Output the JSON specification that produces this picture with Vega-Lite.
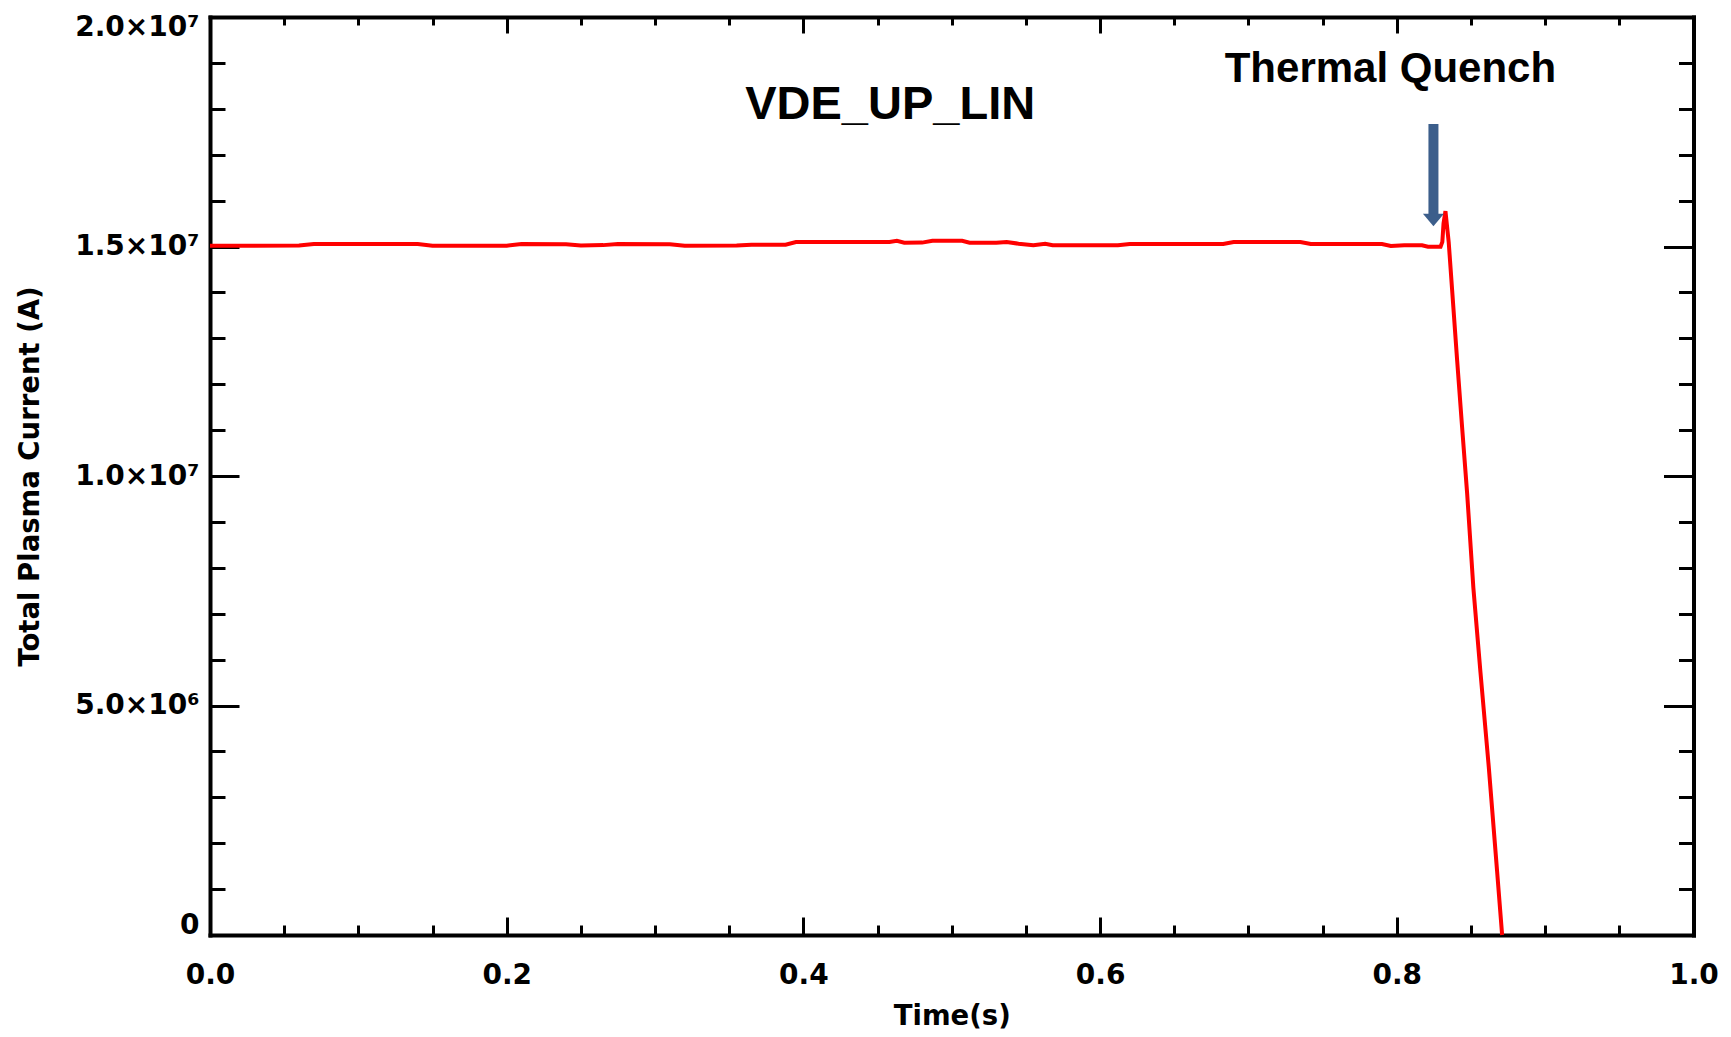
{
  "$schema": "https://vega.github.io/schema/vega-lite/v6.json",
  "width": 1483.5,
  "height": 918,
  "autosize": {"type": "none"},
  "padding": {"left": 210, "top": 17, "right": 37.5, "bottom": 102},
  "background": "white",
  "config": {
    "view": {"stroke": null},
    "axis": {
      "grid": false,
      "domainColor": "black",
      "domainWidth": 4,
      "domainCap": "square",
      "tickColor": "black",
      "tickWidth": 3,
      "labelFont": "DejaVu Sans",
      "labelFontWeight": "bold",
      "labelFontSize": 28,
      "labelColor": "black",
      "labelOverlap": false,
      "labelBound": false,
      "titleFont": "DejaVu Sans",
      "titleFontWeight": "bold",
      "titleFontSize": 27.5,
      "titleColor": "black"
    }
  },
  "datasets": {
    "current": [
      {"time": 0, "current": 15017000},
      {"time": 0.06, "current": 15020000},
      {"time": 0.07, "current": 15054000},
      {"time": 0.14, "current": 15054000},
      {"time": 0.15, "current": 15017000},
      {"time": 0.2, "current": 15017000},
      {"time": 0.21, "current": 15054000},
      {"time": 0.24, "current": 15050000},
      {"time": 0.25, "current": 15020000},
      {"time": 0.265, "current": 15030000},
      {"time": 0.275, "current": 15054000},
      {"time": 0.31, "current": 15050000},
      {"time": 0.32, "current": 15017000},
      {"time": 0.355, "current": 15020000},
      {"time": 0.365, "current": 15039000},
      {"time": 0.388, "current": 15040000},
      {"time": 0.395, "current": 15098000},
      {"time": 0.458, "current": 15100000},
      {"time": 0.463, "current": 15126000},
      {"time": 0.468, "current": 15083000},
      {"time": 0.48, "current": 15085000},
      {"time": 0.487, "current": 15126000},
      {"time": 0.507, "current": 15126000},
      {"time": 0.512, "current": 15083000},
      {"time": 0.53, "current": 15080000},
      {"time": 0.537, "current": 15098000},
      {"time": 0.545, "current": 15061000},
      {"time": 0.555, "current": 15026000},
      {"time": 0.563, "current": 15061000},
      {"time": 0.568, "current": 15026000},
      {"time": 0.612, "current": 15026000},
      {"time": 0.62, "current": 15054000},
      {"time": 0.683, "current": 15054000},
      {"time": 0.69, "current": 15098000},
      {"time": 0.735, "current": 15098000},
      {"time": 0.742, "current": 15054000},
      {"time": 0.79, "current": 15054000},
      {"time": 0.796, "current": 15011000},
      {"time": 0.805, "current": 15026000},
      {"time": 0.817, "current": 15026000},
      {"time": 0.821, "current": 14996000},
      {"time": 0.8295, "current": 14996000},
      {"time": 0.8307, "current": 15100000},
      {"time": 0.8315, "current": 15500000},
      {"time": 0.8328, "current": 15770000},
      {"time": 0.835, "current": 15090000},
      {"time": 0.8373, "current": 14050000},
      {"time": 0.8407, "current": 12510000},
      {"time": 0.844, "current": 11070000},
      {"time": 0.8474, "current": 9630000},
      {"time": 0.8516, "current": 7570000},
      {"time": 0.8564, "current": 5720000},
      {"time": 0.862, "current": 3660000},
      {"time": 0.8676, "current": 1390000},
      {"time": 0.871, "current": 0}
    ],
    "arrow": [
      {"time": 0.8247, "top": 17670000, "bottom": 15620000, "head": 15577000}
    ],
    "run": [
      {"time": 0.4585, "current": 17770000, "label": "VDE_UP_LIN"}
    ],
    "event": [
      {"time": 0.7957, "current": 18590000, "label": "Thermal Quench"}
    ]
  },
  "layer": [
    {
      "data": {"name": "current"},
      "mark": {"type": "line", "color": "#ff0000", "strokeWidth": 4},
      "encoding": {
        "x": {
          "field": "time", "type": "quantitative",
          "scale": {"domain": [0, 1], "nice": false, "zero": false},
          "axis": {
            "orient": "bottom",
            "values": [0, 0.05, 0.1, 0.15, 0.2, 0.25, 0.3, 0.35, 0.4, 0.45, 0.5, 0.55, 0.6, 0.65, 0.7, 0.75, 0.8, 0.85, 0.9, 0.95, 1.0],
            "tickSize": {"condition": {"test": "abs(datum.value*5 - round(datum.value*5)) < 0.001", "value": -18}, "value": -10},
            "labelExpr": "abs(datum.value*5 - round(datum.value*5)) < 0.001 ? format(datum.value, '.1f') : ''",
            "labelPadding": 44,
            "labelFlush": false,
            "title": "Time(s)",
            "titlePadding": 5
          }
        },
        "y": {
          "field": "current", "type": "quantitative",
          "scale": {"domain": [0, 20000000], "nice": false, "zero": false},
          "axis": {
            "orient": "left",
            "values": [0, 1000000, 2000000, 3000000, 4000000, 5000000, 6000000, 7000000, 8000000, 9000000, 10000000, 11000000, 12000000, 13000000, 14000000, 15000000, 16000000, 17000000, 18000000, 19000000, 20000000],
            "tickSize": {"condition": {"test": "datum.value % 5000000 == 0", "value": -29}, "value": -15},
            "labelExpr": "datum.value == 0 ? '0' : datum.value == 5000000 ? '5.0×10⁶' : datum.value == 10000000 ? '1.0×10⁷' : datum.value == 15000000 ? '1.5×10⁷' : datum.value == 20000000 ? '2.0×10⁷' : ''",
            "labelPadding": 40,
            "labelFlush": true,
            "labelFlushOffset": 4,
            "title": "Total Plasma Current (A)",
            "titlePadding": 30
          }
        }
      }
    },
    {
      "data": {"name": "arrow"},
      "mark": {"type": "rule", "color": "#3c5e8b", "strokeWidth": 10, "strokeCap": "butt"},
      "encoding": {
        "x": {
          "field": "time", "type": "quantitative",
          "scale": {"domain": [0, 1], "nice": false, "zero": false},
          "axis": {
            "orient": "top",
            "values": [0, 0.05, 0.1, 0.15, 0.2, 0.25, 0.3, 0.35, 0.4, 0.45, 0.5, 0.55, 0.6, 0.65, 0.7, 0.75, 0.8, 0.85, 0.9, 0.95, 1.0],
            "tickSize": {"condition": {"test": "abs(datum.value*5 - round(datum.value*5)) < 0.001", "value": -16}, "value": -8},
            "labels": false,
            "title": null
          }
        },
        "y": {
          "field": "top", "type": "quantitative",
          "scale": {"domain": [0, 20000000], "nice": false, "zero": false},
          "axis": {
            "orient": "right",
            "values": [0, 1000000, 2000000, 3000000, 4000000, 5000000, 6000000, 7000000, 8000000, 9000000, 10000000, 11000000, 12000000, 13000000, 14000000, 15000000, 16000000, 17000000, 18000000, 19000000, 20000000],
            "tickSize": {"condition": {"test": "datum.value % 5000000 == 0", "value": -30}, "value": -15},
            "labels": false,
            "title": null
          }
        },
        "y2": {"field": "bottom"}
      }
    },
    {
      "data": {"name": "arrow"},
      "mark": {"type": "point", "shape": "M-1,-0.6L1,-0.6L0,0.6Z", "filled": true, "color": "#3c5e8b", "opacity": 1, "size": 441},
      "encoding": {
        "x": {"field": "time", "type": "quantitative", "scale": {"domain": [0, 1], "nice": false, "zero": false}, "axis": null},
        "y": {"field": "head", "type": "quantitative", "scale": {"domain": [0, 20000000], "nice": false, "zero": false}, "axis": null}
      }
    },
    {
      "data": {"name": "run"},
      "mark": {"type": "text", "font": "Liberation Sans", "fontWeight": "bold", "fontSize": 47, "color": "black", "align": "center", "baseline": "alphabetic"},
      "encoding": {
        "x": {"field": "time", "type": "quantitative", "scale": {"domain": [0, 1], "nice": false, "zero": false}, "axis": null},
        "y": {"field": "current", "type": "quantitative", "scale": {"domain": [0, 20000000], "nice": false, "zero": false}, "axis": null},
        "text": {"field": "label"}
      }
    },
    {
      "data": {"name": "event"},
      "mark": {"type": "text", "font": "Liberation Sans", "fontWeight": "bold", "fontSize": 42, "color": "black", "align": "center", "baseline": "alphabetic"},
      "encoding": {
        "x": {"field": "time", "type": "quantitative", "scale": {"domain": [0, 1], "nice": false, "zero": false}, "axis": null},
        "y": {"field": "current", "type": "quantitative", "scale": {"domain": [0, 20000000], "nice": false, "zero": false}, "axis": null},
        "text": {"field": "label"}
      }
    }
  ],
  "resolve": {"axis": {"x": "independent", "y": "independent"}}
}
